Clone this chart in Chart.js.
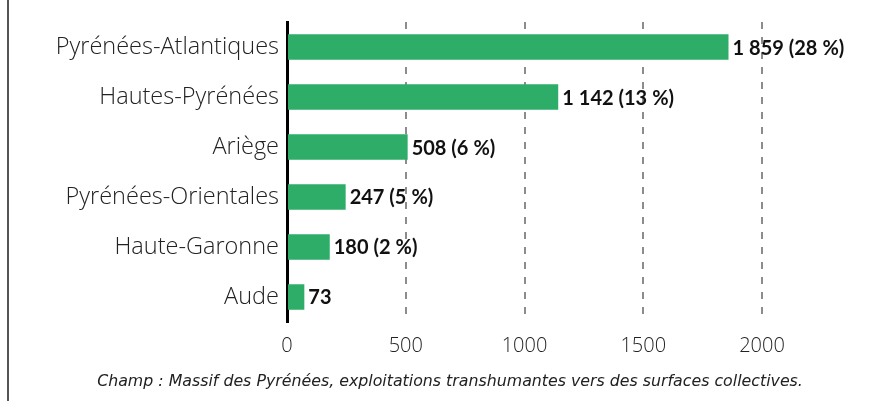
<!DOCTYPE html>
<html><head><meta charset="utf-8">
<script src="https://cdn.jsdelivr.net/npm/chart.js@4/dist/chart.umd.min.js"></script>
<style>html,body{margin:0;padding:0;background:#fff;}#wrap{width:880px;height:401px;position:relative;}</style>
</head><body><div id="wrap"><canvas id="c" width="880" height="401"></canvas></div>
<script>
const categories = ["Pyrénées-Atlantiques","Hautes-Pyrénées","Ariège","Pyrénées-Orientales","Haute-Garonne","Aude"];
const values = [1859, 1142, 508, 247, 180, 73];
const percents = [28, 13, 6, 5, 2, null];
const xTicks = [0, 500, 1000, 1500, 2000];
const caption = "Champ : Massif des Pyrénées, exploitations transhumantes vers des surfaces collectives.";

function fmt(v){ return String(v).replace(/\B(?=(\d{3})+(?!\d))/g, "\u202F"); }
const labelTexts = values.map((v,i)=> percents[i]==null ? fmt(v) : fmt(v)+" ("+percents[i]+"\u202F%)");

const extras = {
  id:'extras',
  afterDatasetsDraw(chart){
    const ctx = chart.ctx;
    const meta = chart.getDatasetMeta(0);
    ctx.save();
    ctx.font = "bold 20px Lato, 'Open Sans', sans-serif";
    ctx.fillStyle = "#111";
    ctx.textBaseline = "middle";
    ctx.textAlign = "left";
    meta.data.forEach((bar,i)=>{
      ctx.fillText(labelTexts[i], bar.x + 4, bar.y + 1);
    });
    ctx.restore();
  },
  afterDraw(chart){
    const ctx = chart.ctx;
    ctx.save();
    ctx.fillStyle = "#555";
    ctx.fillRect(7, 0, 2, chart.height);
    ctx.font = "oblique 15.8px 'DejaVu Sans', sans-serif";
    ctx.fillStyle = "#222";
    ctx.textAlign = "center";
    ctx.textBaseline = "middle";
    ctx.fillText(caption, 450, 382);
    ctx.restore();
  }
};

new Chart(document.getElementById('c'), {
  type:'bar',
  data:{ labels:categories, datasets:[{ data:values, backgroundColor:'#2EAD68', borderWidth:0, categoryPercentage:1, barPercentage:0.51 }]},
  options:{
    indexAxis:'y', responsive:false, animation:false,
    layout:{ padding:{ top:22, right:118, bottom:0, left:0 } },
    plugins:{ legend:{display:false}, tooltip:{enabled:false}, title:{display:false} },
    scales:{
      x:{ min:0, max:2000,
          afterBuildTicks(s){ s.ticks = xTicks.map(v=>({value:v})); },
          afterFit(s){ s.height = 79; },
          border:{ display:false, dash:[7,8] },
          grid:{ color:'#8c8c8c', lineWidth:2, drawTicks:false },
          ticks:{ padding:12, color:'#222', callback:(v)=>String(v), font:{ family:"'Open Sans', sans-serif", size:20, weight:'300' } }
      },
      y:{
          afterFit(s){ s.width = 287; },
          border:{ display:true, color:'#000', width:3 },
          grid:{ display:false, drawTicks:false },
          ticks:{ padding:8, color:'#222', font:{ family:"'Open Sans', sans-serif", size:23.5, weight:'300' } }
      }
    }
  },
  plugins:[extras]
});
</script></body></html>
